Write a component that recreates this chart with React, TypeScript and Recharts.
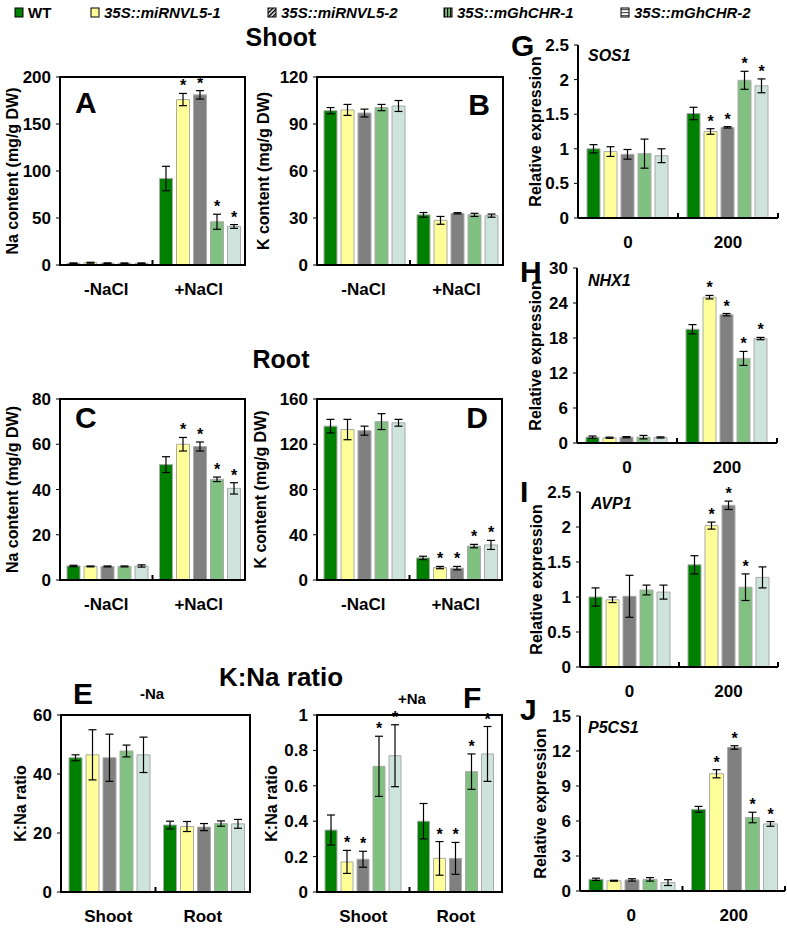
import { Bar, BarChart, ErrorBar, ReferenceLine, XAxis, YAxis } from "recharts";

const font = "'Liberation Sans', Arial, Helvetica, sans-serif";

const lines = ["WT", "35S::miRNVL5-1", "35S::miRNVL5-2", "35S::mGhCHR-1", "35S::mGhCHR-2"];
const fills = ["#008000", "#ffff99", "#808080", "#80c080", "#cde3dc"];

const saltCats = ["-NaCl", "+NaCl"];
const tissueCats = ["Shoot", "Root"];
const doseCats = ["0", "200"];

const noSig = [[0, 0, 0, 0, 0], [0, 0, 0, 0, 0]];
const saltSig = [[0, 0, 0, 0, 0], [0, 1, 1, 1, 1]];

// A - Na content, shoot
const shootNa = [[1.8, 2.4, 1.9, 1.8, 1.8], [92, 176, 181, 46, 41]];
const shootNaErr = [[0.4, 0.5, 0.4, 0.4, 0.4], [13, 6.5, 4.5, 8, 2]];
// B - K content, shoot
const shootK = [[98.5, 99, 97, 100.5, 101.5], [32, 28.5, 33, 32, 31.5]];
const shootKErr = [[2, 3.5, 2.5, 2, 3.5], [1.5, 2.5, 0.4, 1, 1]];
// C - Na content, root
const rootNa = [[6.2, 6, 6, 6, 6.2], [51, 60, 59, 44.5, 40.5]];
const rootNaErr = [[0.3, 0.2, 0.2, 0.2, 0.5], [3.5, 3, 2, 1, 2.5]];
// D - K content, root
const rootK = [[136, 133, 132, 140, 139], [19.5, 11, 10.5, 30, 31]];
const rootKErr = [[6, 9, 4, 7, 3], [1.5, 1, 1.5, 1.5, 4]];
// E - K:Na ratio, -Na
const ratioMinus = [[45.5, 46.5, 45.5, 47.8, 46.5], [22.7, 22.2, 22, 23.2, 23.1]];
const ratioMinusErr = [[1, 8.5, 8, 2, 6], [1.3, 1.7, 1.2, 0.9, 1.5]];
// F - K:Na ratio, +Na
const ratioPlus = [[0.35, 0.17, 0.185, 0.71, 0.77], [0.4, 0.19, 0.19, 0.68, 0.78]];
const ratioPlusErr = [[0.085, 0.065, 0.045, 0.17, 0.175], [0.1, 0.095, 0.09, 0.1, 0.155]];
const ratioPlusSig = [[0, 1, 1, 1, 1], [0, 1, 1, 1, 1]];
// G - SOS1
const sos1 = [[1, 0.96, 0.92, 0.93, 0.9], [1.51, 1.25, 1.31, 1.99, 1.91]];
const sos1Err = [[0.06, 0.07, 0.07, 0.21, 0.1], [0.09, 0.04, 0.01, 0.13, 0.1]];
// H - NHX1
const nhx1 = [[1, 0.9, 1, 1, 0.95], [19.5, 25, 22, 14.5, 17.9]];
const nhx1Err = [[0.2, 0.1, 0.1, 0.3, 0.1], [0.8, 0.3, 0.2, 1.2, 0.2]];
// I - AVP1
const avp1 = [[1, 0.96, 1.01, 1.1, 1.07], [1.46, 2.02, 2.31, 1.14, 1.28]];
const avp1Err = [[0.13, 0.04, 0.3, 0.07, 0.1], [0.13, 0.05, 0.06, 0.19, 0.15]];
const avp1Sig = [[0, 0, 0, 0, 0], [0, 1, 1, 1, 0]];
// J - P5CS1
const p5cs1 = [[1, 0.88, 0.95, 1, 0.72], [7, 10.05, 12.3, 6.3, 5.75]];
const p5cs1Err = [[0.1, 0.04, 0.1, 0.15, 0.25], [0.25, 0.35, 0.15, 0.45, 0.2]];

// plot rectangles [left, top, right, bottom] of the framed panels A-F
const boxA: [number, number, number, number] = [60, 77, 245, 265];
const boxB: [number, number, number, number] = [317, 77, 503, 265];
const boxC: [number, number, number, number] = [60, 399, 245, 580];
const boxD: [number, number, number, number] = [317, 399, 502, 580];
const boxE: [number, number, number, number] = [61, 715, 250, 892];
const boxF: [number, number, number, number] = [317, 715, 502, 892];
const frames = [boxA, boxB, boxC, boxD, boxE, boxF];

const axisLine = { stroke: "#000", strokeWidth: 2 };
const tickFont = { fill: "#000", fontSize: 17, fontWeight: 700, fontFamily: font };

const upTick = (p: any) => {
  const yb = Math.max(p.y1, p.y2);
  return <line x1={p.x1} x2={p.x1} y1={yb} y2={yb - 5} stroke="#000" strokeWidth={2} />;
};

type PanelProps = {
  plot: [number, number, number, number];
  left: number;
  cats: string[];
  vals: number[][];
  errs: number[][];
  sig: number[][];
  max: number;
  ticks: number[];
  yTitle: string;
  titleX: number;
  open?: boolean;
  gap: number;
};

function Panel({ plot, left, cats, vals, errs, sig, max, ticks, yTitle, titleX, open, gap }: PanelProps) {
  const [pl, pt, pr, pb] = plot;
  const top = pt - 24;
  const w = pr + 6 - left;
  const h = pb + 44 - top;
  const rows = cats.map((c, i) => {
    const row: Record<string, string | number> = { cat: c };
    vals[i].forEach((v, k) => {
      row["v" + k] = v;
      row["e" + k] = errs[i][k];
    });
    return row;
  });

  return (
    <div style={{ position: "absolute", left, top }}>
      <BarChart
        width={w}
        height={h}
        data={rows}
        margin={{ top: 24, right: 6, bottom: 14, left: 0 }}
        barCategoryGap={gap}
        barGap={4}
      >
        <XAxis dataKey="cat" height={30} axisLine={axisLine} tickLine={false} tickMargin={12} tick={tickFont} />
        <YAxis
          width={pl - left}
          domain={[0, max]}
          ticks={ticks}
          allowDataOverflow
          axisLine={axisLine}
          tickLine={{ stroke: "#000" }}
          tickSize={4}
          tickMargin={5}
          tick={tickFont}
          label={{
            value: yTitle,
            angle: -90,
            position: "insideLeft",
            offset: titleX - left,
            style: { textAnchor: "middle", fontSize: 16, fontWeight: 700, fill: "#000", fontFamily: font },
          }}
        />
        <ReferenceLine x={cats[1]} position="start" shape={upTick} />
        {open && <ReferenceLine x={cats[1]} position="end" shape={upTick} />}
        {lines.map((name, k) => (
          <Bar
            key={name}
            dataKey={"v" + k}
            name={name}
            fill={fills[k]}
            stroke="#aaaaaa"
            strokeWidth={1}
            isAnimationActive={false}
            label={(p: any) => {
              const i = p.index;
              if (!sig[i] || !sig[i][k]) return <g />;
              const yTop = p.y - (errs[i][k] * p.height) / p.value;
              return (
                <text
                  x={p.x + p.width / 2}
                  y={yTop - 2}
                  textAnchor="middle"
                  fontSize={16}
                  fontWeight={700}
                  fontFamily={font}
                  fill="#000"
                >
                  *
                </text>
              );
            }}
          >
            <ErrorBar dataKey={"e" + k} width={4} stroke="#000" strokeWidth={1.2} />
          </Bar>
        ))}
      </BarChart>
    </div>
  );
}

function Overlay() {
  const big = { fontFamily: font, fontWeight: 700, fill: "#000" } as const;
  const legendX = [15, 91, 268, 444, 621];
  return (
    <svg width={787} height={932} style={{ position: "absolute", left: 0, top: 0, pointerEvents: "none" }}>
      <defs>
        <pattern id="diag" width="3" height="3" patternUnits="userSpaceOnUse" patternTransform="rotate(45)">
          <rect width="3" height="3" fill="#fff" />
          <rect width="1.5" height="3" fill="#000" />
        </pattern>
        <pattern id="vert" width="3" height="3" patternUnits="userSpaceOnUse">
          <rect width="3" height="3" fill="#80c080" />
          <rect width="1.2" height="3" fill="#000" />
        </pattern>
        <pattern id="horz" width="3" height="3" patternUnits="userSpaceOnUse">
          <rect width="3" height="3" fill="#fff" />
          <rect width="3" height="1.2" fill="#555" />
        </pattern>
      </defs>
      {frames.map(([l, t, r, b], i) => (
        <rect key={i} x={l} y={t} width={r - l} height={b - t} fill="none" stroke="#000" strokeWidth={2} />
      ))}
      {lines.map((name, k) => {
        const fill = k === 2 ? "url(#diag)" : k === 3 ? "url(#vert)" : k === 4 ? "url(#horz)" : fills[k];
        return (
          <g key={name}>
            <rect x={legendX[k]} y={8} width={8} height={9} fill={fill} stroke="#000" strokeWidth={1} />
            <text x={legendX[k] + 13} y={18} fontSize={15} fontStyle={k ? "italic" : "normal"} {...big}>
              {name}
            </text>
          </g>
        );
      })}
      <text x={281} y={46} fontSize={25} textAnchor="middle" {...big}>Shoot</text>
      <text x={281} y={368} fontSize={25} textAnchor="middle" {...big}>Root</text>
      <text x={281} y={686} fontSize={26} textAnchor="middle" {...big}>K:Na ratio</text>

      <text x={75} y={113} fontSize={30} {...big}>A</text>
      <text x={490} y={115} fontSize={30} textAnchor="end" {...big}>B</text>
      <text x={75} y={428} fontSize={30} {...big}>C</text>
      <text x={488} y={428} fontSize={30} textAnchor="end" {...big}>D</text>
      <text x={73} y={704} fontSize={30} {...big}>E</text>
      <text x={140} y={699} fontSize={15} {...big}>-Na</text>
      <text x={463} y={708} fontSize={30} {...big}>F</text>
      <text x={398} y={704} fontSize={15} {...big}>+Na</text>

      <text x={511} y={56} fontSize={30} {...big}>G</text>
      <text x={520} y={282} fontSize={30} {...big}>H</text>
      <text x={520} y={502} fontSize={30} {...big}>I</text>
      <text x={520} y={720} fontSize={30} {...big}>J</text>
      <text x={588} y={61} fontSize={16} fontStyle="italic" {...big}>SOS1</text>
      <text x={588} y={286} fontSize={16} fontStyle="italic" {...big}>NHX1</text>
      <text x={591} y={509} fontSize={16} fontStyle="italic" {...big}>AVP1</text>
      <text x={588} y={733} fontSize={16} fontStyle="italic" {...big}>P5CS1</text>
    </svg>
  );
}

export default function App() {
  return (
    <div style={{ position: "absolute", left: 0, top: 0, width: 787, height: 932, background: "#fff", fontFamily: font }}>
      <Panel plot={boxA} left={0} cats={saltCats} vals={shootNa} errs={shootNaErr} sig={saltSig}
        max={200} ticks={[0, 50, 100, 150, 200]} yTitle="Na content (mg/g DW)" titleX={12} gap={7} />
      <Panel plot={boxB} left={252} cats={saltCats} vals={shootK} errs={shootKErr} sig={noSig}
        max={120} ticks={[0, 30, 60, 90, 120]} yTitle="K content (mg/g DW)" titleX={263} gap={7} />
      <Panel plot={boxC} left={0} cats={saltCats} vals={rootNa} errs={rootNaErr} sig={saltSig}
        max={80} ticks={[0, 20, 40, 60, 80]} yTitle="Na content (mg/g DW)" titleX={12} gap={7} />
      <Panel plot={boxD} left={252} cats={saltCats} vals={rootK} errs={rootKErr} sig={saltSig}
        max={160} ticks={[0, 40, 80, 120, 160]} yTitle="K content (mg/g DW)" titleX={260} gap={7} />
      <Panel plot={boxE} left={0} cats={tissueCats} vals={ratioMinus} errs={ratioMinusErr} sig={noSig}
        max={60} ticks={[0, 20, 40, 60]} yTitle="K:Na ratio" titleX={20} gap={8} />
      <Panel plot={boxF} left={252} cats={tissueCats} vals={ratioPlus} errs={ratioPlusErr} sig={ratioPlusSig}
        max={1} ticks={[0, 0.2, 0.4, 0.6, 0.8, 1]} yTitle="K:Na ratio" titleX={271} gap={8} />
      <Panel plot={[578, 45, 778, 218]} left={510} cats={doseCats} vals={sos1} errs={sos1Err} sig={saltSig}
        max={2.5} ticks={[0, 0.5, 1, 1.5, 2, 2.5]} yTitle="Relative expression" titleX={535} open gap={9} />
      <Panel plot={[577, 268, 777, 443]} left={510} cats={doseCats} vals={nhx1} errs={nhx1Err} sig={saltSig}
        max={30} ticks={[0, 6, 12, 18, 24, 30]} yTitle="Relative expression" titleX={535} open gap={9} />
      <Panel plot={[580, 492, 778, 667]} left={510} cats={doseCats} vals={avp1} errs={avp1Err} sig={avp1Sig}
        max={2.5} ticks={[0, 0.5, 1, 1.5, 2, 2.5]} yTitle="Relative expression" titleX={536} open gap={9} />
      <Panel plot={[580, 716, 785, 891]} left={510} cats={doseCats} vals={p5cs1} errs={p5cs1Err} sig={saltSig}
        max={15} ticks={[0, 3, 6, 9, 12, 15]} yTitle="Relative expression" titleX={540} open gap={9} />
      <Overlay />
    </div>
  );
}
